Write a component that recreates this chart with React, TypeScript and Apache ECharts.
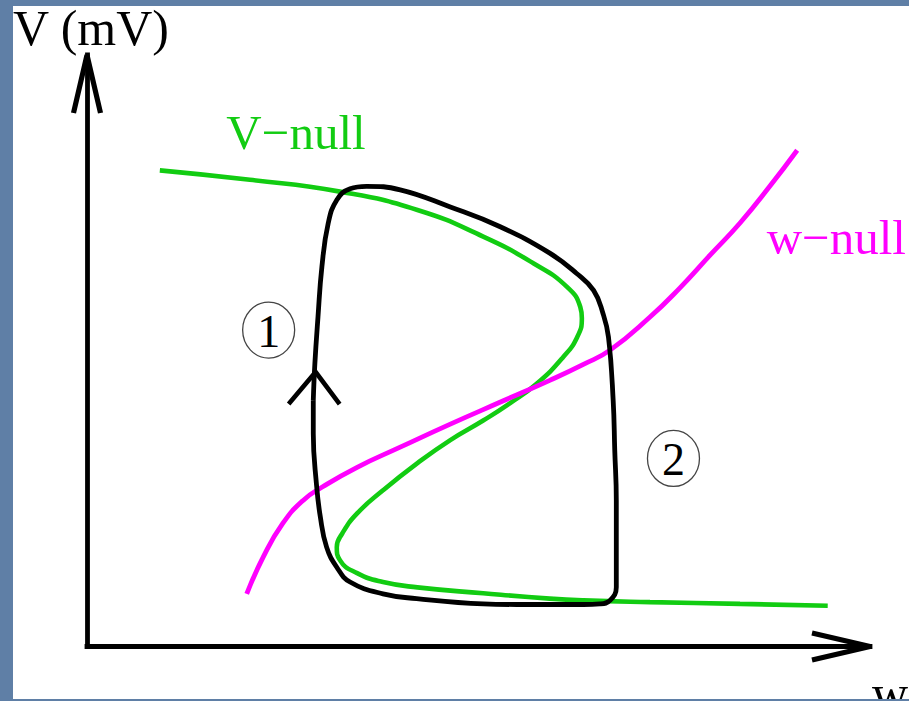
import React, { useEffect, useRef } from "react";
import * as echarts from "echarts";

// Phase plane (w, V) in arbitrary units
const W_MIN = 0;
const W_MAX = 100;
const V_MIN = 0;
const V_MAX = 100;

// V-nullcline (cubic, folded)
const vNullW = [9.3, 20.8, 32.3, 42.2, 50.6, 57.0, 61.3, 63.0, 63.2, 62.6, 60.8, 57.5, 54.0, 50.6, 46.4, 42.2, 37.8, 34.5, 32.6, 31.9, 32.3, 34.5, 37.8, 42.2, 50.6, 59.1, 63.4, 71.9, 83.4, 94.6];
const vNullV = [80.5, 78.9, 76.9, 73.8, 69.3, 64.8, 60.8, 57.4, 55.5, 52.3, 48.9, 44.5, 41.1, 38.2, 34.9, 31.0, 26.4, 22.5, 19.1, 16.8, 14.6, 12.4, 10.9, 10.0, 9.0, 8.1, 7.8, 7.5, 7.2, 6.9];

// w-nullcline (sigmoid)
const wNullW = [20.4, 22.5, 25.0, 27.6, 30.1, 34.5, 40.0, 46.4, 53.1, 59.1, 63.4, 66.8, 71.9, 75.7, 79.6, 83.4, 87.2, 90.7];
const wNullV = [8.9, 15.1, 20.8, 24.7, 27.0, 30.3, 33.7, 37.6, 41.5, 45.0, 47.7, 50.1, 55.7, 60.6, 66.2, 71.6, 77.8, 83.9];

// Limit cycle (closed, clockwise)
const cycleW = [28.9, 29.1, 29.5, 30.0, 30.8, 31.9, 33.6, 35.7, 40.0, 46.4, 52.7, 59.1, 62.5, 64.7, 65.9, 66.6, 67.2, 67.4, 67.6, 67.6, 67.6, 66.8, 65.5, 63.4, 54.9, 50.6, 42.1, 37.8, 33.6, 31.9, 30.6, 29.8, 29.3, 28.9, 28.9];
const cycleV = [41.6, 47.8, 55.7, 64.2, 71.5, 75.5, 77.4, 77.8, 77.2, 74.3, 71.0, 66.5, 63.1, 60.2, 56.3, 52.3, 41.6, 33.2, 24.7, 16.2, 10.0, 7.8, 7.2, 7.1, 7.1, 7.2, 8.1, 8.9, 10.9, 13.4, 16.8, 21.9, 27.5, 36.0, 41.6];

// Texts
const yAxisName = "V (mV)";
const xAxisName = "w";
const curveNames = ["V\u2212null", "w\u2212null"];
const curveNameAnchors = [
  [17.8, 86.9],
  [86.8, 69.1],
];
const phaseNames = ["1", "2"];
const phaseAnchors = [
  [23.2, 53.5],
  [74.9, 31.8],
];
// Direction of motion along the slow branch
const flowArrowAnchor = [29.2, 46.4];

const GREEN = "#12cc12";
const MAGENTA = "#ff00ff";
const FRAME_BLUE = "#5f7fa6";
const SERIF = '"Liberation Serif", "Times New Roman", serif';

const pairs = (xs: number[], ys: number[]) => xs.map((x, i) => [x, ys[i]]);

export default function App() {
  const ref = useRef<HTMLDivElement>(null);

  useEffect(() => {
    document.body.style.margin = "0";
    const chart = echarts.init(ref.current!, null, { renderer: "svg" });

    const axisCommon = {
      type: "value" as const,
      axisTick: { show: false },
      axisLabel: { show: false },
      splitLine: { show: false },
      axisLine: { show: true, onZero: false, lineStyle: { color: "#000", width: 4.8, cap: "square" } },
    };

    chart.setOption({
      animation: false,
      backgroundColor: "#ffffff",
      grid: { left: 87, top: 55, right: 39, bottom: 54.5, containLabel: false },
      xAxis: { ...axisCommon, min: W_MIN, max: W_MAX, position: "bottom" },
      yAxis: { ...axisCommon, min: V_MIN, max: V_MAX, position: "left" },
      series: [
        {
          name: curveNames[1],
          type: "line",
          data: pairs(wNullW, wNullV),
          showSymbol: false,
          symbol: "none",
          smooth: 0.5,
          silent: true,
          z: 3,
          lineStyle: { color: MAGENTA, width: 4.8 },
        },
        {
          name: curveNames[0],
          type: "line",
          data: pairs(vNullW, vNullV),
          showSymbol: false,
          symbol: "none",
          smooth: 0.5,
          silent: true,
          z: 2,
          lineStyle: { color: GREEN, width: 4.6 },
        },
        {
          name: "cycle",
          type: "line",
          data: pairs(cycleW, cycleV),
          showSymbol: false,
          symbol: "none",
          smooth: 0.45,
          silent: true,
          z: 4,
          lineStyle: { color: "#000", width: 4.8, join: "round" },
        },
      ],
    });

    const toPx = (p: number[]) => chart.convertToPixel({ gridIndex: 0 }, p) as number[];
    const origin = toPx([W_MIN, V_MIN]);
    const xEnd = toPx([W_MAX, V_MIN]);
    const yEnd = toPx([W_MIN, V_MAX]);
    const flow = toPx(flowArrowAnchor);

    const chevron = (pts: number[][], width = 5.2) => ({
      type: "polyline",
      z: 10,
      shape: { points: pts },
      style: { stroke: "#000", lineWidth: width, fill: null, lineJoin: "miter" },
    });

    const graphic: any[] = [
      // axis arrow heads
      chevron([
        [xEnd[0] - 58, xEnd[1] - 13.5],
        [xEnd[0], xEnd[1]],
        [xEnd[0] - 58, xEnd[1] + 13.5],
      ]),
      chevron([
        [yEnd[0] - 13.5, yEnd[1] + 58],
        [yEnd[0], yEnd[1]],
        [yEnd[0] + 13.5, yEnd[1] + 58],
      ]),
      // flow direction on the limit cycle
      chevron(
        [
          [flow[0] - 27, flow[1] + 32],
          [flow[0], flow[1]],
          [flow[0] + 24, flow[1] + 32],
        ],
        4.6
      ),
      // axis names
      {
        type: "text",
        z: 10,
        x: 13,
        y: 28,
        style: { text: yAxisName, fill: "#000", fontSize: 50, fontFamily: SERIF, align: "left", verticalAlign: "middle" },
      },
      {
        type: "text",
        z: 10,
        x: 872,
        y: origin[1] + 46.5,
        style: { text: xAxisName, fill: "#000", fontSize: 50, fontFamily: SERIF, align: "left", verticalAlign: "middle" },
      },
    ];

    curveNames.forEach((name, i) => {
      const p = toPx(curveNameAnchors[i]);
      graphic.push({
        type: "text",
        z: 10,
        x: p[0],
        y: p[1],
        style: {
          text: name,
          fill: i === 0 ? GREEN : MAGENTA,
          fontSize: 49,
          fontFamily: SERIF,
          align: "left",
          verticalAlign: "middle",
        },
      });
    });

    phaseNames.forEach((name, i) => {
      const p = toPx(phaseAnchors[i]);
      graphic.push({
        type: "ellipse",
        z: 10,
        shape: { cx: p[0], cy: p[1], rx: 26, ry: 28 },
        style: { stroke: "#444", lineWidth: 1.3, fill: null },
      });
      graphic.push({
        type: "text",
        z: 10,
        x: p[0],
        y: p[1] + 1,
        style: { text: name, fill: "#000", fontSize: 46, fontFamily: SERIF, align: "center", verticalAlign: "middle" },
      });
    });

    // surrounding frame
    graphic.push(
      { type: "rect", z: 100, shape: { x: 0, y: 0, width: 13, height: 701 }, style: { fill: FRAME_BLUE } },
      { type: "rect", z: 100, shape: { x: 0, y: 0, width: 909, height: 6 }, style: { fill: FRAME_BLUE } },
      { type: "rect", z: 100, shape: { x: 0, y: 699, width: 909, height: 2 }, style: { fill: FRAME_BLUE } }
    );

    chart.setOption({ graphic });

    return () => chart.dispose();
  }, []);

  return <div ref={ref} style={{ position: "fixed", left: 0, top: 0, width: 909, height: 701 }} />;
}
